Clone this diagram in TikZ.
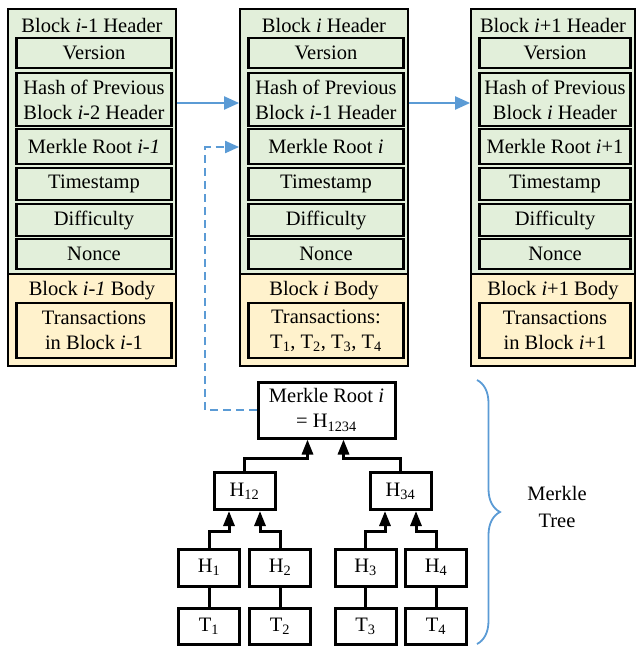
\documentclass[tikz,border=0pt]{standalone}
\usepackage{fontspec}
\setmainfont{Liberation Serif}
\usetikzlibrary{arrows.meta,decorations.pathreplacing}
\definecolor{hgreen}{HTML}{E2EFDA}
\definecolor{byellow}{HTML}{FFF2CC}
\definecolor{lblue}{HTML}{5B9BD5}
\tikzset{
  txt/.style={font=\fontsize{20.5}{25}\selectfont, align=center, inner sep=0pt},
  hdrbg/.style={draw=black, line width=1.8pt, fill=hgreen, inner sep=0pt},
  bodybg/.style={draw=black, line width=1.8pt, fill=byellow, inner sep=0pt},
  field/.style={txt, draw=black, line width=2.8pt, fill=hgreen},
  tfield/.style={txt, draw=black, line width=2.8pt, fill=byellow},
  tbox/.style={txt, draw=black, line width=3pt, fill=white, minimum width=61pt, minimum height=37pt},
  chainarrow/.style={draw=lblue, line width=2.2pt, -{Triangle[width=13pt,length=15pt]}},
  dasharrow/.style={draw=lblue, line width=2pt, dash pattern=on 8pt off 5pt, -{Triangle[width=12pt,length=14pt]}},
  treearrow/.style={draw=black, line width=3pt, -{Triangle[width=11pt,length=15pt]}},
  treeline/.style={draw=black, line width=3pt},
}
\newcommand\myblock[8]{%
 \pgfmathsetmacro\blkW{#3}\pgfmathsetmacro\blkIW{#3-13}\pgfmathsetmacro\blkIX{#2+2}%
 \node[hdrbg, minimum width=\blkW pt, minimum height=265pt, anchor=north] (#1hd) at (#2,8) {};
 \node[bodybg, minimum width=\blkW pt, minimum height=92pt, anchor=north] (#1bd) at (#2,273) {};
 \node[txt] (#1title) at (#2,25) {#4};
 \node[field, minimum width=\blkIW pt, minimum height=30pt] (#1ver) at (\blkIX,53) {Version};
 \node[field, minimum width=\blkIW pt, minimum height=53pt] (#1hash) at (\blkIX,99.5) {Hash of Previous\\#5};
 \node[field, minimum width=\blkIW pt, minimum height=35pt] (#1merk) at (\blkIX,146.5) {#6};
 \node[field, minimum width=\blkIW pt, minimum height=32pt] (#1time) at (\blkIX,184) {Timestamp};
 \node[field, minimum width=\blkIW pt, minimum height=32pt] (#1diff) at (\blkIX,220) {Difficulty};
 \node[field, minimum width=\blkIW pt, minimum height=30pt] (#1nonce) at (\blkIX,254) {Nonce};
 \node[txt] (#1btitle) at (#2,291) {#7};
 \node[tfield, minimum width=\blkIW pt, minimum height=55pt] (#1trans) at (\blkIX,330.5) {#8};
}
\begin{document}
\begin{tikzpicture}[x=1pt,y=-1pt]
\useasboundingbox (0,0) rectangle (636,646);
\myblock{L}{92}{168}{Block \textit{i}-1 Header}{Block \textit{i}-2 Header}{Merkle Root \textit{i-1}}{Block \textit{i-1} Body}{Transactions\\in Block \textit{i}-1}
\myblock{M}{324}{168}{Block \textit{i} Header}{Block \textit{i}-1 Header}{Merkle Root \textit{i}}{Block \textit{i} Body}{Transactions:\\T\textsubscript{1}, T\textsubscript{2}, T\textsubscript{3}, T\textsubscript{4}}
\myblock{R}{553}{164}{Block \textit{i}+1 Header}{Block \textit{i} Header}{Merkle Root \textit{i}+1}{Block \textit{i}+1 Body}{Transactions\\in Block \textit{i}+1}
\coordinate (ay) at (0,103);
\draw[chainarrow] (Lhd.east |- ay) -- (Mhd.west |- ay);
\draw[chainarrow] (Mhd.east |- ay) -- (Rhd.west |- ay);
% Merkle tree
\node[tbox, minimum width=137pt, minimum height=56pt] (root) at (326.5,410) {Merkle Root \textit{i}\\= H\textsubscript{1234}};
\node[tbox] (h12) at (244.5,491) {H\textsubscript{12}};
\node[tbox] (h34) at (400.5,491) {H\textsubscript{34}};
\node[tbox] (h1) at (209,567.5) {H\textsubscript{1}};
\node[tbox] (h2) at (280,567.5) {H\textsubscript{2}};
\node[tbox] (h3) at (365.5,567.5) {H\textsubscript{3}};
\node[tbox] (h4) at (436,567.5) {H\textsubscript{4}};
\node[tbox, minimum height=36pt] (t1) at (209,626) {T\textsubscript{1}};
\node[tbox, minimum height=36pt] (t2) at (280,626) {T\textsubscript{2}};
\node[tbox, minimum height=36pt] (t3) at (365.5,626) {T\textsubscript{3}};
\node[tbox, minimum height=36pt] (t4) at (436,626) {T\textsubscript{4}};
\coordinate (dk) at (205,147);
\draw[dasharrow] (root.west) -| (dk) -- (Mhd.west |- dk);
\draw[treearrow] (h1.north) -- ++(0,-16) -| ([xshift=-15.5pt]h12.south);
\draw[treearrow] (h2.north) -- ++(0,-16) -| ([xshift=15.5pt]h12.south);
\draw[treearrow] (h3.north) -- ++(0,-16) -| ([xshift=-15.5pt]h34.south);
\draw[treearrow] (h4.north) -- ++(0,-16) -| ([xshift=15.5pt]h34.south);
\draw[treearrow] (h12.north) -- ++(0,-13) -| ([xshift=-19pt]root.south);
\draw[treearrow] (h34.north) -- ++(0,-13) -| ([xshift=17pt]root.south);
\draw[treeline] (t1.north) -- (h1.south);
\draw[treeline] (t2.north) -- (h2.south);
\draw[treeline] (t3.north) -- (h3.south);
\draw[treeline] (t4.north) -- (h4.south);
\draw[draw=lblue, line width=1.8pt, decorate, decoration={brace, amplitude=23pt}] (477,380) -- (477,644);
\node[txt, font=\fontsize{20.5}{27}\selectfont] (mt) at (557,506.5) {Merkle\\Tree};
\end{tikzpicture}
\end{document}
